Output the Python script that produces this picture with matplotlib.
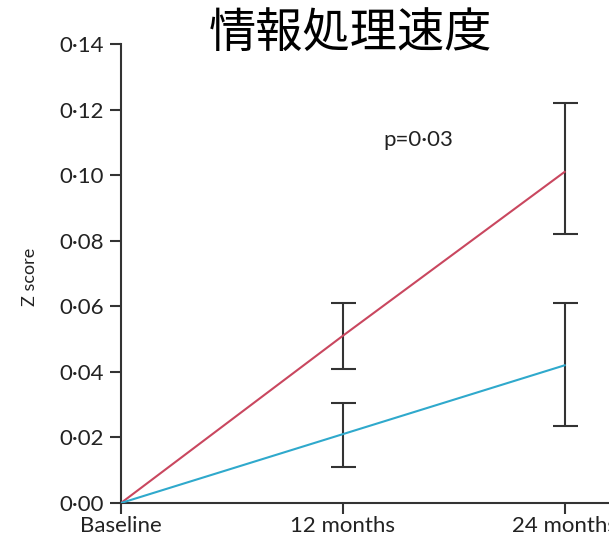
import matplotlib.pyplot as plt
import numpy as np

# time points (months) and labels
months = [0, 12, 24]
time_labels = ['Baseline', '12 months', '24 months']

# mean change in Z score with lower / upper limits
red_mean = [0.0, 0.051, 0.101]
red_low = [0.0, 0.041, 0.082]
red_high = [0.0, 0.061, 0.122]

blue_mean = [0.0, 0.021, 0.042]
blue_low = [0.0, 0.011, 0.0235]
blue_high = [0.0, 0.0305, 0.061]

yticks = [0.00, 0.02, 0.04, 0.06, 0.08, 0.10, 0.12, 0.14]

sans = ['Lato', 'DejaVu Sans']

fig = plt.figure(figsize=(6.09, 5.42), dpi=100)
ax = fig.add_axes([121 / 609, 39 / 542, 1 - 121 / 609, 459 / 542])

def draw_series(mean, low, high, color):
    ax.plot(months, mean, color=color, lw=1.5, zorder=3)
    m = np.array(mean[1:])
    err = [m - np.array(low[1:]), np.array(high[1:]) - m]
    ax.errorbar(months[1:], m, yerr=err, fmt='none', ecolor='#333333',
                elinewidth=1.5, capsize=9, capthick=1.5, zorder=2)

draw_series(red_mean, red_low, red_high, '#c9475f')
draw_series(blue_mean, blue_low, blue_high, '#2fa9cc')

ax.set_xlim(0, 26.4)
ax.set_ylim(0, 0.14)
ax.set_xticks(months)
ax.set_xticklabels(time_labels, family=sans, fontsize=16, color='#222222')
ax.set_yticks(yticks)
ax.set_yticklabels([f'{v:.2f}'.replace('.', '\u00b7') for v in yticks],
                   family=sans, fontsize=16, color='#222222')

for side in ['top', 'right']:
    ax.spines[side].set_visible(False)
for side in ['left', 'bottom']:
    ax.spines[side].set_linewidth(1.5)
    ax.spines[side].set_color('#333333')
    ax.spines[side].set_clip_on(False)
ax.tick_params(direction='out', length=8, width=1.5, color='#333333')
ax.tick_params(axis='y', pad=4)
ax.tick_params(axis='x', pad=1)

ax.text(14.2, 0.1107, 'p=0\u00b703', family=sans, fontsize=16,
        color='#222222', va='center', ha='left')

fig.text(30 / 609, 1 - 277 / 542, 'Z score', rotation=90, family=sans,
         fontsize=13, color='#222222', ha='center', va='center')

fig.text(350 / 609, 1 - 34 / 542, '情報処理速度', family=['Noto Sans CJK JP'],
         fontsize=34, ha='center', va='center')

fig.savefig('out.png', dpi=100)
